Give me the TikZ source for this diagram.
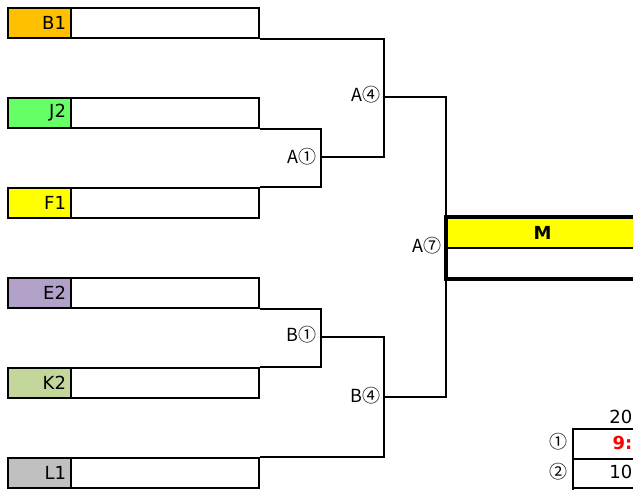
\documentclass[tikz,border=0pt]{standalone}
\usepackage{fontspec}
\setmainfont{DejaVu Sans}
\newfontfamily\jpfont{Noto Sans CJK JP}
\definecolor{cB}{HTML}{FFC000}
\definecolor{cJ}{HTML}{66FF66}
\definecolor{cF}{HTML}{FFFF00}
\definecolor{cE}{HTML}{B1A0C7}
\definecolor{cK}{HTML}{C4D79B}
\definecolor{cL}{HTML}{C0C0C0}
\definecolor{cM}{HTML}{FFFF00}
\tikzset{
  txt/.style={font=\fontsize{18}{18}\selectfont},
  jtxt/.style={font=\jpfont\fontsize{18}{18}\selectfont},
  namebox/.style={draw, line width=2pt, anchor=north west, minimum height=30pt, text width=53pt, inner xsep=5pt, inner ysep=0pt, align=right, txt},
  blankbox/.style={draw, line width=2pt, anchor=north west, minimum height=30pt, minimum width=188pt, inner sep=0pt},
  wire/.style={line width=2pt},
  rlabel/.style={anchor=east, inner sep=0pt, jtxt},
  mbox/.style={draw, line width=2pt, anchor=north west, minimum height=30pt, minimum width=192pt, inner sep=0pt},
  row/.style={draw, line width=2pt, anchor=north west, minimum height=29.5pt, minimum width=106pt, inner sep=0pt},
}
\begin{document}
\begin{tikzpicture}[x=1pt,y=-1pt]
\useasboundingbox (0,0) rectangle (633,490);
\clip (0,0) rectangle (633,490);
% teams
\node[namebox, fill=cB] (b1n) at (7,7) {B1};
\node[blankbox] (b1b) at (70,7) {};
\node[namebox, fill=cJ] (j2n) at (7,97) {J2};
\node[blankbox] (j2b) at (70,97) {};
\node[namebox, fill=cF] (f1n) at (7,187) {F1};
\node[blankbox] (f1b) at (70,187) {};
\node[namebox, fill=cE] (e2n) at (7,277) {E2};
\node[blankbox] (e2b) at (70,277) {};
\node[namebox, fill=cK] (k2n) at (7,367) {K2};
\node[blankbox] (k2b) at (70,367) {};
\node[namebox, fill=cL] (l1n) at (7,457) {L1};
\node[blankbox] (l1b) at (70,457) {};
% junctions
\coordinate (ja1) at (321,157);
\coordinate (ja4) at (384,97);
\coordinate (jb1) at (321,337);
\coordinate (jb4) at (384,397);
% final box
\node[mbox, fill=cM, font=\bfseries\fontsize{18}{18}\selectfont] (mtop) at (445.5,217) {M};
\node[mbox] (mbot) at (445.5,247) {};
\draw[line width=3.5pt] (mtop.north west) rectangle (mbot.south east);
% wires
\draw[wire] (j2b.south east) -| (ja1) |- (f1b.north east);
\draw[wire] (b1b.south east) -| (ja4);
\draw[wire] (ja1) -| (ja4);
\draw[wire] (e2b.south east) -| (jb1) |- (k2b.north east);
\draw[wire] (jb1) -| (jb4) |- (l1b.north east);
\draw[wire] (ja4) -| (mtop.north west);
\draw[wire] (jb4) -| (mbot.south west);
% labels
\node[rlabel] (la1) at (317,157) {A①};
\node[rlabel] (la4) at (381,95) {A④};
\node[rlabel] (lb1) at (317,335) {B①};
\node[rlabel] (lb4) at (381,396) {B④};
\node[rlabel] (la7) at (442,246) {A⑦};
% table
\node[row] (r1) at (572,428) {};
\node[row] (r2) at (572,457.5) {};
\node[row] (r3) at (572,487) {};
\node[txt, anchor=east, inner sep=0pt] (hdr) at (632.5,417) {20};
\node[txt, anchor=east, inner sep=0pt, text=red, font=\bfseries\fontsize{18}{18}\selectfont] (t1) at (632.5,442.5) {9:};
\node[txt, anchor=east, inner sep=0pt] (t2) at (632.5,472) {10};
\node[jtxt, inner sep=0pt] (c1) at (558,442) {①};
\node[jtxt, inner sep=0pt] (c2) at (558,472) {②};
\end{tikzpicture}
\end{document}
